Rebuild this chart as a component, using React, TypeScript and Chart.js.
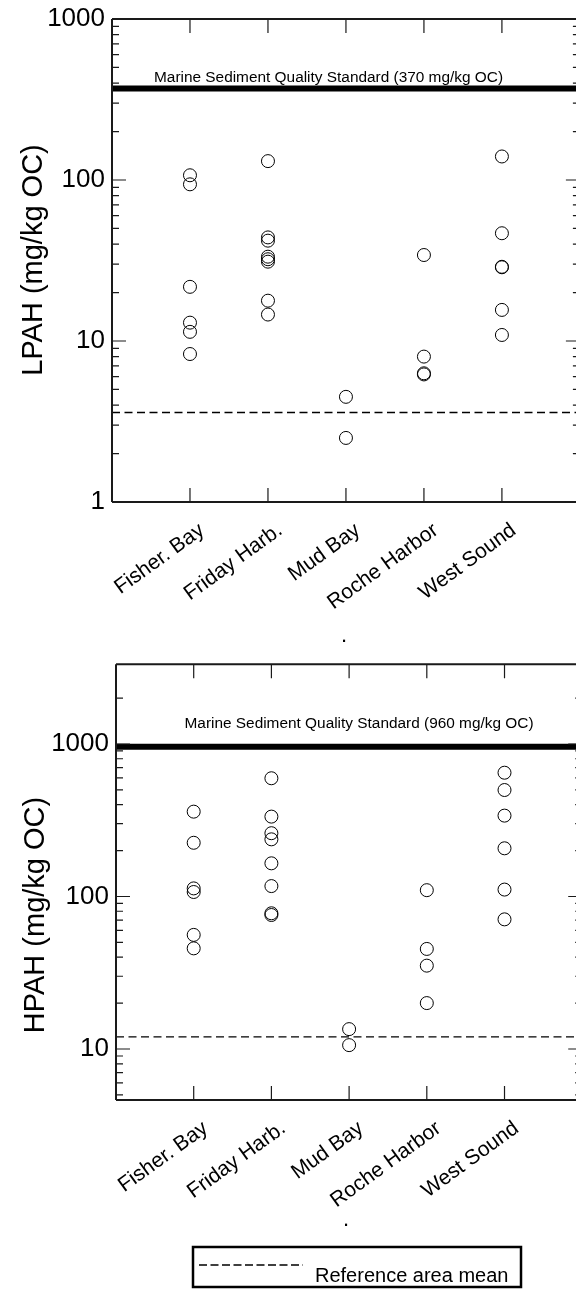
import React, { useEffect, useRef } from "react";
import { Chart, registerables } from "chart.js";

Chart.register(...registerables);

const FONT = '"Liberation Sans", Arial, Helvetica, sans-serif';

// ---- Data ----
const SITES = ["Fisher. Bay", "Friday Harb.", "Mud Bay", "Roche Harbor", "West Sound"];

const LPAH_FISHER = [107, 94, 21.7, 13, 11.4, 8.3];
const LPAH_FRIDAY = [131, 44, 42, 33.4, 32.2, 31.1, 17.8, 14.6];
const LPAH_MUD = [4.5, 2.5];
const LPAH_ROCHE = [34.2, 8.0, 6.3, 6.2];
const LPAH_WEST = [140, 46.7, 28.9, 28.7, 15.6, 10.9];

const HPAH_FISHER = [360, 225, 113, 107, 56, 45.7];
const HPAH_FRIDAY = [596, 334, 260, 237, 165, 117, 77.6, 75.6];
const HPAH_MUD = [13.5, 10.6];
const HPAH_ROCHE = [110, 45.3, 35.2, 20];
const HPAH_WEST = [648, 499, 339, 207, 111, 70.8];

const LPAH_STANDARD = 370;
const HPAH_STANDARD = 960;
const LPAH_REF_MEAN = 3.6;
const HPAH_REF_MEAN = 12;

const LPAH_MAJOR_TICKS = [1, 10, 100, 1000];
const LPAH_MINOR_TICKS = [2, 3, 4, 5, 6, 7, 8, 9, 20, 30, 40, 50, 60, 70, 80, 90, 200, 300, 400, 500, 600, 700, 800, 900];
const HPAH_MAJOR_TICKS = [10, 100, 1000];
const HPAH_MINOR_TICKS = [5, 6, 7, 8, 9, 20, 30, 40, 50, 60, 70, 80, 90, 200, 300, 400, 500, 600, 700, 800, 900, 2000];

const LPAH_TITLE = "LPAH (mg/kg OC)";
const HPAH_TITLE = "HPAH (mg/kg OC)";
const LPAH_STD_TEXT = "Marine Sediment Quality Standard (370 mg/kg OC)";
const HPAH_STD_TEXT = "Marine Sediment Quality Standard (960 mg/kg OC)";
const LEGEND_TEXT = "Reference area mean";
const X_TITLE = ".";

// ---- Plugins ----
const framePlugin = {
  id: "frame",
  afterDraw(chart: any, _args: any, o: any) {
    const { ctx, chartArea: a, scales } = chart;
    const xs = scales.x;
    const ys = scales.y;
    const xr = xs.getPixelForValue(SITES.length + 1);
    ctx.save();
    ctx.strokeStyle = "#1a1a1a";
    ctx.lineWidth = 2;
    ctx.beginPath();
    ctx.moveTo(a.left, a.top);
    ctx.lineTo(a.left, a.bottom);
    ctx.moveTo(a.left, a.top);
    ctx.lineTo(xr, a.top);
    ctx.moveTo(a.left, a.bottom);
    ctx.lineTo(xr, a.bottom);
    ctx.moveTo(xr, a.top);
    ctx.lineTo(xr, a.bottom);
    ctx.stroke();
    ctx.lineWidth = 1.2;
    ctx.beginPath();
    for (const t of ys.ticks) {
      const py = ys.getPixelForValue(t.value);
      const len = o.majors.includes(t.value) ? 14 : 7;
      ctx.moveTo(a.left, py);
      ctx.lineTo(a.left + len, py);
      ctx.moveTo(xr, py);
      ctx.lineTo(xr - len, py);
    }
    for (let i = 1; i <= SITES.length; i++) {
      const px = xs.getPixelForValue(i);
      ctx.moveTo(px, a.top);
      ctx.lineTo(px, a.top + 14);
      ctx.moveTo(px, a.bottom);
      ctx.lineTo(px, a.bottom - 14);
    }
    ctx.stroke();
    ctx.restore();
  },
};

const annotPlugin = {
  id: "annot",
  afterDraw(chart: any, _args: any, o: any) {
    const { ctx, chartArea: a, scales } = chart;
    const ys = scales.y;
    ctx.save();
    ctx.fillStyle = "#000";
    ctx.textAlign = "center";
    ctx.textBaseline = "alphabetic";
    ctx.font = `${o.stdSize}px ${FONT}`;
    ctx.fillText(o.stdText, a.left + o.stdX, ys.getPixelForValue(o.stdValue) + o.stdDy);

    ctx.save();
    ctx.translate(o.titleX, o.titleY);
    ctx.rotate(-Math.PI / 2);
    ctx.font = `${o.titleSize}px ${FONT}`;
    ctx.fillText(o.title, 0, 0);
    ctx.restore();

    if (o.legend) {
      const L = o.legend;
      ctx.strokeStyle = "#000";
      ctx.lineWidth = 2.5;
      ctx.strokeRect(L.x, L.y, L.w, L.h);
      ctx.lineWidth = 1.3;
      ctx.setLineDash([8, 3.5]);
      ctx.beginPath();
      ctx.moveTo(L.x + 6, L.y + 18);
      ctx.lineTo(L.x + 110, L.y + 18);
      ctx.stroke();
      ctx.setLineDash([]);
      ctx.textAlign = "left";
      ctx.font = `20px ${FONT}`;
      ctx.fillText(LEGEND_TEXT, L.x + 122, L.y + 35);
    }
    ctx.restore();
  },
};

type Cfg = {
  groups: number[][];
  standard: number;
  refMean: number;
  majors: number[];
  minors: number[];
  yMin: number;
  yMax: number;
  xMax: number;
  yWidth: number;
  xHeight: number;
  padTop: number;
  xTitlePad: number;
  stdText: string;
  stdX: number;
  stdDy: number;
  title: string;
  titleX: number;
  titleY: number;
  legend?: { x: number; y: number; w: number; h: number };
};

function buildConfig(c: Cfg): any {
  const pointSets = c.groups.map((vals, i) => ({
    label: SITES[i],
    data: vals.map((v) => ({ x: i + 1, y: v })),
    pointStyle: "circle",
    pointRadius: 6.5,
    pointHoverRadius: 6.5,
    borderWidth: 1,
    borderColor: "#000",
    backgroundColor: "rgba(0,0,0,0)",
    showLine: false,
  }));
  const xEnd = SITES.length + 1;
  return {
    type: "scatter",
    data: {
      datasets: [
        ...pointSets,
        {
          type: "line",
          label: "standard",
          data: [
            { x: 0, y: c.standard },
            { x: xEnd, y: c.standard },
          ],
          borderColor: "#000",
          borderWidth: 6,
          pointRadius: 0,
          fill: false,
          showLine: true,
        },
        {
          type: "line",
          label: LEGEND_TEXT,
          data: [
            { x: 0, y: c.refMean },
            { x: xEnd, y: c.refMean },
          ],
          borderColor: "#000",
          borderWidth: 1.4,
          borderDash: [8, 4.5],
          pointRadius: 0,
          fill: false,
          showLine: true,
        },
      ],
    },
    options: {
      responsive: false,
      animation: false,
      events: [],
      layout: { autoPadding: false, padding: { top: c.padTop, left: 0, right: 0, bottom: 0 } },
      plugins: {
        legend: { display: false },
        tooltip: { enabled: false },
        frame: { majors: c.majors },
        annot: {
          stdText: c.stdText,
          stdValue: c.standard,
          stdX: c.stdX,
          stdDy: c.stdDy,
          stdSize: 15.4,
          title: c.title,
          titleX: c.titleX,
          titleY: c.titleY,
          titleSize: 29,
          legend: c.legend,
        },
      },
      scales: {
        x: {
          type: "linear",
          min: 0,
          max: c.xMax,
          afterBuildTicks: (s: any) => {
            s.ticks = SITES.map((_, i) => ({ value: i + 1 }));
          },
          afterFit: (s: any) => {
            s.height = c.xHeight;
            s.paddingLeft = 0;
            s.paddingRight = 0;
          },
          grid: { display: false, drawTicks: false },
          border: { display: false },
          ticks: {
            autoSkip: false,
            minRotation: 36,
            maxRotation: 36,
            labelOffset: 12,
            padding: 16,
            color: "#000",
            font: { family: FONT, size: 21 },
            callback: (v: any) => SITES[Number(v) - 1] ?? "",
          },
          title: {
            display: true,
            text: X_TITLE,
            color: "#000",
            font: { family: FONT, size: 22 },
            padding: { top: 0, bottom: c.xTitlePad },
          },
        },
        y: {
          type: "logarithmic",
          min: c.yMin,
          max: c.yMax,
          afterBuildTicks: (s: any) => {
            s.ticks = [...c.majors, ...c.minors]
              .filter((v) => v >= c.yMin && v <= c.yMax)
              .sort((p, q) => p - q)
              .map((v) => ({ value: v }));
          },
          afterFit: (s: any) => {
            s.width = c.yWidth;
            s.paddingTop = 0;
            s.paddingBottom = 0;
          },
          grid: { display: false, drawTicks: false },
          border: { display: false },
          ticks: {
            autoSkip: false,
            padding: 7,
            color: "#000",
            font: { family: FONT, size: 26 },
            callback: (v: any) => (c.majors.includes(Number(v)) ? String(v) : ""),
          },
        },
      },
    },
    plugins: [framePlugin, annotPlugin],
  };
}

const TOP_CFG: Cfg = {
  groups: [LPAH_FISHER, LPAH_FRIDAY, LPAH_MUD, LPAH_ROCHE, LPAH_WEST],
  standard: LPAH_STANDARD,
  refMean: LPAH_REF_MEAN,
  majors: LPAH_MAJOR_TICKS,
  minors: LPAH_MINOR_TICKS,
  yMin: 1,
  yMax: 1000,
  xMax: 5.95,
  yWidth: 112,
  xHeight: 148,
  padTop: 19,
  xTitlePad: 1,
  stdText: LPAH_STD_TEXT,
  stdX: 216.5,
  stdDy: -7,
  title: LPAH_TITLE,
  titleX: 42,
  titleY: 260,
};

const BOTTOM_CFG: Cfg = {
  groups: [HPAH_FISHER, HPAH_FRIDAY, HPAH_MUD, HPAH_ROCHE, HPAH_WEST],
  standard: HPAH_STANDARD,
  refMean: HPAH_REF_MEAN,
  majors: HPAH_MAJOR_TICKS,
  minors: HPAH_MINOR_TICKS,
  yMin: 4.63,
  yMax: 3330,
  xMax: 5.92,
  yWidth: 116,
  xHeight: 189,
  padTop: 14.3,
  xTitlePad: 56,
  stdText: HPAH_STD_TEXT,
  stdX: 243,
  stdDy: -19,
  title: HPAH_TITLE,
  titleX: 44,
  titleY: 265,
  legend: { x: 193, y: 597, w: 328, h: 40 },
};

function PahChart({ cfg, top, height }: { cfg: Cfg; top: number; height: number }) {
  const ref = useRef<HTMLCanvasElement>(null);
  useEffect(() => {
    const chart = new Chart(ref.current as HTMLCanvasElement, buildConfig(cfg));
    return () => chart.destroy();
  }, [cfg]);
  return (
    <canvas
      ref={ref}
      width={576}
      height={height}
      style={{ position: "absolute", left: 0, top, width: 576, height, display: "block" }}
    />
  );
}

export default function App() {
  return (
    <div style={{ position: "absolute", left: 0, top: 0, width: 576, height: 1289, background: "#fff", overflow: "hidden" }}>
      <PahChart cfg={TOP_CFG} top={0} height={650} />
      <PahChart cfg={BOTTOM_CFG} top={650} height={639} />
    </div>
  );
}
